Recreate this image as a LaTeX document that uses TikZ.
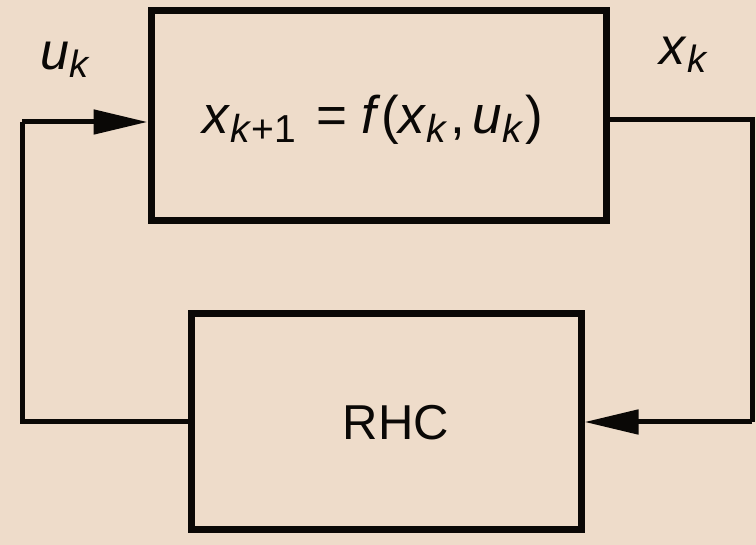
\documentclass[tikz,border=0pt]{standalone}
\usepackage{fontspec}
\setmainfont{Liberation Sans}
\usetikzlibrary{arrows.meta}
\definecolor{bgpeach}{RGB}{238,220,202}
\definecolor{ink}{RGB}{10,8,6}
\newcommand\subtxt[2]{\raisebox{-0.16em}{\fontsize{#1}{#1}\selectfont #2}}
\tikzset{
  blockbox/.style={draw=ink, line width=7pt, fill=none, inner sep=0pt},
  wire/.style={draw=ink, line width=5pt},
  arrowwire/.style={wire, -{Triangle[length=54pt,width=24pt]}},
  lbl/.style={text=ink, inner sep=0pt},
}
\begin{document}
\begin{tikzpicture}[x=1pt,y=-1pt]
  \fill[bgpeach] (0,0) rectangle (756,545);
  \useasboundingbox (0,0) rectangle (756,545);
  \node[blockbox, minimum width=455pt, minimum height=210pt] (plant) at (378.5,116) {};
  \node[blockbox, minimum width=390pt, minimum height=216pt] (rhc) at (386,422) {};
  \node[lbl] (eq) at (373,120) {\fontsize{53}{53}\selectfont \textit{x}\subtxt{39}{\textit{k}+1}\hspace{0.1em} = \textit{f}(\textit{x}\subtxt{39}{\textit{k}}\hspace{0.05em},\hspace{0.14em}\textit{u}\subtxt{39}{\textit{k}}\hspace{0.05em})};
  \node[lbl] (rhctxt) at (396,423) {\fontsize{49}{49}\selectfont RHC};
  \node[lbl] (ulbl) at (65,60) {\fontsize{52}{52}\selectfont \textit{u}\subtxt{38}{\textit{k}}};
  \node[lbl] (xlbl) at (684,55) {\fontsize{52}{52}\selectfont \textit{x}\subtxt{38}{\textit{k}}};
  \coordinate (lc) at (22,122);
  \coordinate (rc) at (752,120);
  \draw[wire] (rhc.west) -| (lc);
  \draw[arrowwire] (lc) -- (plant.west |- lc);
  \draw[wire] (plant.east |- rc) -| (rc |- rhc.east);
  \draw[arrowwire] (rc |- rhc.east) -- (rhc.east);
\end{tikzpicture}
\end{document}
